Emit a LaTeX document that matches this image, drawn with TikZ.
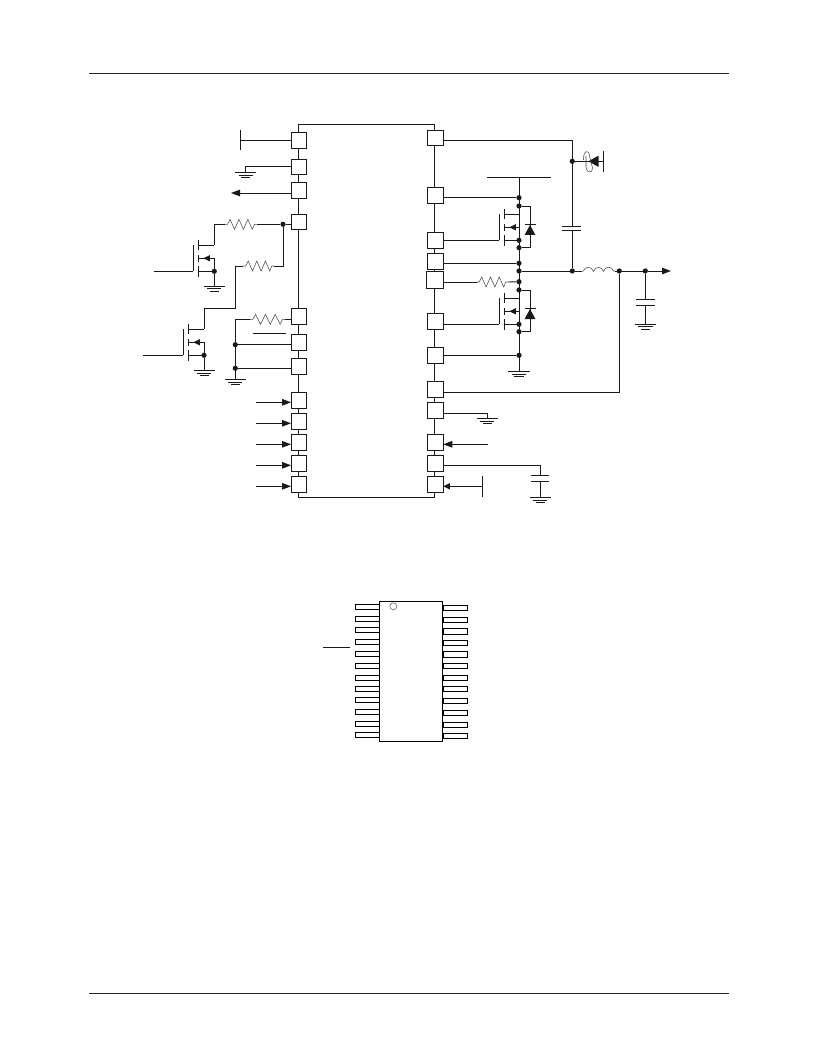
\documentclass[tikz,border=0pt]{standalone}
\usetikzlibrary{arrows.meta}
\tikzset{
  wire/.style={line width=0.9pt,draw=black!90},
  rule/.style={line width=0.7pt,draw=black!85},
  pinbox/.style={draw=black!90,line width=0.9pt,fill=white,rectangle,minimum width=15.5pt,minimum height=16pt,inner sep=0pt,outer sep=0pt},
  dot/.style={circle,fill=black!90,draw=none,minimum size=5.2pt,inner sep=0pt,outer sep=0pt},
  tip/.style={wire,-{Triangle[length=9pt,width=6.5pt]}},
  tipshort/.style={wire,-{Triangle[length=6.5pt,width=6pt]}},
  thin gray/.style={line width=0.55pt,draw=black!70},
  leadbox/.style={draw=black,line width=0.75pt,fill=white},
  pics/gnd/.style={code={
    \draw[wire] (-#1,0) -- (#1,0);
    \draw[wire] (-#1+3.5,2.7) -- (#1-3.5,2.7);
    \draw[wire] (-#1+6,5.1) -- (#1-6,5.1);
    \coordinate (-top) at (0,0);
  }},
  pics/res/.style={code={
    \coordinate (-a) at (0,0);
    \coordinate (-b) at (#1,0);
    \draw[thin gray] (0,0) -- (0.08*#1,0) -- (0.16*#1,-5) -- (0.30*#1,5) -- (0.44*#1,-5) -- (0.58*#1,5) -- (0.72*#1,-5) -- (0.86*#1,5) -- (0.93*#1,0) -- (#1,0);
  }},
  pics/mos/.style={code={
    \coordinate (-d) at (#1,0);
    \coordinate (-s) at (#1,13);
    \coordinate (-b) at (#1,26);
    \coordinate (-g) at (-5,26);
    \draw[wire] (0,-5) -- (0,5);
    \draw[wire] (0,9.7) -- (0,16.3);
    \draw[wire] (0,20.7) -- (0,31.3);
    \draw[wire] (-5,0) -- (-5,26);
    \draw[wire] (0,0) -- (-d);
    \draw[wire] (0,13) -- (-s) -- (-b);
    \draw[wire] (0,26) -- (-b);
    \draw[tipshort] (11.5,13) -- (5,13);
  }}
}
\begin{document}
\begin{tikzpicture}[x=1pt,y=-1pt]
\useasboundingbox (0,0) rectangle (816,1056);
\fill[white] (0,0) rectangle (816,1056);
% page rules
\draw[rule] (89,73) -- (729,73);
\draw[rule] (89,993.5) -- (729,993.5);
% IC outline
\draw[wire] (298.8,124.7) rectangle (434.5,497.3);
% left pins
\node[pinbox] (L1) at (298.8,140.3) {};
\node[pinbox,minimum height=15pt] (L2) at (298.8,166.8) {};
\node[pinbox] (L3) at (298.8,190.3) {};
\node[pinbox,minimum height=15.4pt] (L4) at (298.8,222) {};
\node[pinbox] (L5) at (298.8,316.3) {};
\node[pinbox] (L6) at (298.8,342.3) {};
\node[pinbox] (L7) at (298.8,366.3) {};
\node[pinbox] (L8) at (298.8,400.3) {};
\node[pinbox] (L9) at (298.8,421.3) {};
\node[pinbox] (L10) at (298.8,442.3) {};
\node[pinbox] (L11) at (298.8,463.3) {};
\node[pinbox] (L12) at (298.8,484.3) {};
% right pins
\node[pinbox,minimum height=15.4pt] (R1) at (435.5,137.8) {};
\node[pinbox] (R2) at (435.5,195.3) {};
\node[pinbox] (R3) at (435.5,240.3) {};
\node[pinbox] (R4) at (435.5,261.3) {};
\node[pinbox,minimum width=17.4pt,minimum height=16.6pt] (R5) at (435,279.7) {};
\node[pinbox] (R6) at (435.5,321.3) {};
\node[pinbox] (R7) at (435.5,355.3) {};
\node[pinbox] (R8) at (435.5,389.3) {};
\node[pinbox] (R9) at (435.5,410.3) {};
\node[pinbox] (R10) at (435.5,442.3) {};
\node[pinbox] (R11) at (435.5,463.3) {};
\node[pinbox] (R12) at (435.5,484.3) {};
% left: pin 1 T-bar
\coordinate (tL1) at (240.3,140.3);
\draw[wire] (L1.west) -- (tL1);
\draw[wire] (240.3,130) -- (tL1) -- (240.3,150.5);
% left: pin 2 ground
\pic (gL2) at (245.5,172.7) {gnd=10.5};
\draw[wire] (L2.west) -- (245.5,166.8) -- (gL2-top);
% left: pin 3 output
\coordinate (aL3) at (231,193);
\draw[tip] (L3.west |- aL3) -- (aL3);
% left: pin 4 with resistors
\node[dot] (d4) at (283,224.3) {};
\pic (Ra) at (225,224.3) {res=31.7};
\pic (Rb) at (243.3,266) {res=30.7};
\draw[wire] (L4.west |- d4) -- (d4) -- (Ra-b);
\pic (M1) at (198.3,245.3) {mos=16};
\draw[wire] (Ra-a) -- (214.3,224.3) -- (M1-d);
\draw[wire] (d4) -- (283,266) -- (Rb-b);
\coordinate (g1) at (154,271.3);
\draw[wire] (M1-g) -- (g1);
\node[dot] (d1) at (M1-b) {};
\pic (gM1) at (214.3,286) {gnd=10.5};
\draw[wire] (d1) -- (gM1-top);
% second MOSFET
\pic (M2) at (188.3,329.3) {mos=15.7};
\draw[wire] (Rb-a) -- (235.7,266) -- (235.7,308.3) -- (204,308.3) -- (M2-d);
\coordinate (g2) at (143.3,355.3);
\draw[wire] (M2-g) -- (g2);
\node[dot] (d2) at (M2-b) {};
\pic (gM2) at (204,370.3) {gnd=10.5};
\draw[wire] (d2) -- (gM2-top);
% pins 5-7
\pic (Rc) at (250,319.3) {res=35};
\node[dot] (d6) at (235.3,344.7) {};
\node[dot] (d7) at (235.3,368.3) {};
\pic (gL7) at (235.3,379.3) {gnd=10.5};
\draw[wire] (L5.west |- Rc-b) -- (Rc-b);
\draw[wire] (Rc-a) -- (235.3,319.3) -- (d6) -- (d7) -- (gL7-top);
\draw[wire] (L6.west |- d6) -- (d6);
\draw[wire] (L7.west |- d7) -- (d7);
\draw[wire] (253.3,333.3) -- (285.7,333.3);
% inputs
\foreach \n/\y in {L8/402.3,L9/423.3,L10/444.3,L11/465.3,L12/486.3}{
  \draw[tip] (256,\y) -- (\n.west |- 0,\y);
}
% right: pin 1, bootstrap
\coordinate (c1) at (572.3,140.3);
\node[dot] (dD) at (572.3,161.3) {};
\node[dot] (dSW) at (572.3,271) {};
\draw[wire] (R1.east |- c1) -- (c1) -- (572.3,226);
\draw[wire] (572.3,230.7) -- (dSW);
\draw[wire] (562.3,226) -- (581,226);
\draw[wire] (562.3,230.7) -- (581,230.7);
\coordinate (bD) at (603.3,161.3);
\draw[wire] (dD) -- (bD);
\draw[wire] (603.3,151) -- (bD) -- (603.3,172);
\fill[black!90] (588.3,161.3) -- (598.7,155.6) -- (598.7,167) -- cycle;
\draw[thin gray] (583.5,160) .. controls (583,150) and (589,149) .. (589.5,156) -- (592.5,168) .. controls (593,174) and (586,173) .. (586,167) -- (586,156);
% rail and junctions
\draw[wire] (487.3,177.3) -- (551,177.3);
\node[dot] (a1) at (519,197.7) {};
\node[dot] (a2) at (519,206) {};
\node[dot] (a5) at (519,263.3) {};
\node[dot] (a6) at (519,271) {};
\node[dot] (a7) at (519,281.7) {};
\node[dot] (a8) at (519,290) {};
\node[dot] (a11) at (519,355.3) {};
\pic (gS) at (519,371.3) {gnd=10.8};
\draw[wire] (519,177.3) -- (gS-top);
% high side
\pic (Q1) at (504.3,214.3) {mos=14.7};
\node[dot] (a3) at (Q1-b) {};
\node[dot] (a4) at (519,247.7) {};
\draw[wire] (R3.east) -- (498.3,240.3) -- (Q1-g);
\draw[wire] (a2) -- (530,206) -- (530,247.7) -- (a4);
\fill[black!90] (530,225) -- (535.4,235) -- (524.6,235) -- cycle;
\draw[wire] (524.7,224.5) -- (535.7,224.5);
% low side
\pic (Q2) at (504.3,298.3) {mos=14.7};
\node[dot] (a9) at (Q2-b) {};
\node[dot] (a10) at (519,331.7) {};
\draw[wire] (R6.east |- Q2-g) -- (Q2-g);
\draw[wire] (a8) -- (530,290) -- (530,331.7) -- (a10);
\fill[black!90] (530,309) -- (535.4,319) -- (524.6,319) -- cycle;
\draw[wire] (524.7,308.5) -- (535.7,308.5);
% horizontal connections
\draw[wire] (R2.east |- a1) -- (a1);
\draw[wire] (R4.east |- a5) -- (a5);
\pic (Rd) at (476.7,282) {res=31.3};
\draw[wire] (R5.east |- Rd-a) -- (Rd-a);
\draw[wire] (Rd-b) -- (a7);
\draw[wire] (R7.east) -- (a11);
% output
\node[dot] (o1) at (619.3,271) {};
\node[dot] (o2) at (645.3,271) {};
\coordinate (o3) at (671,271);
\coordinate (l1) at (582.3,271);
\coordinate (l2) at (615,271);
\draw[wire] (a6) -- (dSW) -- (l1);
\draw[thin gray] (l1) -- (583.5,271) .. controls (584.5,266) and (592,266) .. (593.5,271.5) .. controls (595,266) and (602,266) .. (603.5,271.5) .. controls (605,266) and (612,266) .. (613.5,271) -- (l2);
\draw[wire] (l2) -- (o1) -- (o2);
\draw[tip] (o2) -- (o3);
\draw[wire] (o2) -- (645.3,299.3);
\draw[wire] (636,299.3) -- (655,299.3);
\draw[wire] (636,305) -- (655,305);
\pic (gO) at (645.3,324) {gnd=10.8};
\draw[wire] (645.3,305) -- (gO-top);
\draw[wire] (o1) -- (619.3,392.3) -- (R8.east |- 0,392.3);
% right lower pins
\pic (gR9) at (487.3,418.3) {gnd=10.5};
\draw[wire] (R9.east |- 0,413.3) -- (487.3,413.3) -- (gR9-top);
\coordinate (iR10) at (487.7,444.3);
\draw[tip] (iR10) -- (R10.east |- iR10);
\draw[wire] (R11.east |- 0,465.3) -- (540.3,465.3) -- (540.3,475.3);
\draw[wire] (531,475.3) -- (549.3,475.3);
\draw[wire] (531,481.3) -- (549.3,481.3);
\pic (gC) at (540.3,497.3) {gnd=10.5};
\draw[wire] (540.3,481.3) -- (gC-top);
\coordinate (iR12) at (482.3,486.3);
\draw[tipshort] (iR12) -- (R12.east |- iR12);
\draw[wire] (482.3,476) -- (iR12) -- (482.3,497);
% package outline
\node[leadbox,rectangle,minimum width=63pt,minimum height=140pt,inner sep=0pt,outer sep=0pt] (pkg) at (410.8,671.3) {};
\foreach \i/\y in {1/606.7,2/618.7,3/630,4/641.7,5/653.7,6/665.7,7/677.7,8/688.7,9/700,10/711.7,11/723.7,12/735}{
  \draw[leadbox] (355,\y-2.7) rectangle (pkg.west |- 0,\y+2.7);
}
\foreach \i/\y in {1/607.7,2/619.7,3/631.3,4/643,5/654.3,6/666,7/677.7,8/688.7,9/700.7,10/713,11/724.7,12/735.7}{
  \draw[leadbox] (443.3,\y-2.7) rectangle (467.7,\y+2.7);
}
\draw[black!60,line width=0.6pt] (393.3,606.3) circle (3.5);
\draw[wire] (323,647.3) -- (350,647.3);
\end{tikzpicture}
\end{document}
